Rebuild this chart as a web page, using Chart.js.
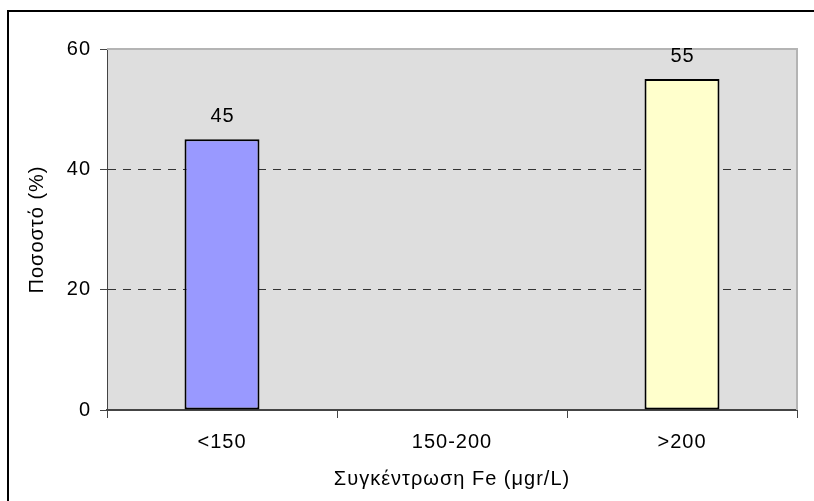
<!DOCTYPE html>
<html><head><meta charset="utf-8">
<script src="https://cdn.jsdelivr.net/npm/chart.js@4/dist/chart.umd.min.js"></script>
<style>
html,body{margin:0;padding:0;background:#fff;}
#wrap{position:relative;width:814px;height:501px;overflow:hidden;}
canvas{display:block;}
</style></head><body>
<div id="wrap"><canvas id="c" width="814" height="501"></canvas></div>
<script>
const categories = ['<150', '150-200', '>200'];
const values = [45, null, 55];
const barColors = ['#9999FF', '#FFFFCC', '#FFFFCC'];
const yTicks = [0, 20, 40, 60];
const xTitle = 'Συγκέντρωση Fe (μgr/L)';
const yTitle = 'Ποσοστό (%)';

const FONT = "'Liberation Sans', Arial, sans-serif";
const FS = 20;

const bgPlugin = {
  id: 'bgPlugin',
  beforeUpdate(chart) {
    try { chart.ctx.letterSpacing = '1px'; } catch (e) {}
  },
  beforeDraw(chart) {
    const {ctx, chartArea: a} = chart;
    try { ctx.letterSpacing = '1px'; } catch (e) {}
    ctx.save();
    ctx.fillStyle = '#fff';
    ctx.fillRect(0, 0, chart.width, chart.height);
    ctx.fillStyle = '#DEDEDE';
    ctx.fillRect(a.left, a.top, a.right - a.left, a.bottom - a.top);
    ctx.restore();
  },
  afterDatasetsDraw(chart) {
    const {ctx, chartArea: a} = chart;
    ctx.save();
    // plot border top/right
    ctx.strokeStyle = '#B4B4B4';
    ctx.lineWidth = 2;
    ctx.beginPath();
    ctx.moveTo(a.left, a.top);
    ctx.lineTo(a.right, a.top);
    ctx.lineTo(a.right, a.bottom);
    ctx.stroke();
    // data labels
    const meta = chart.getDatasetMeta(0);
    ctx.fillStyle = '#000';
    ctx.font = FS + 'px ' + FONT;
    ctx.textAlign = 'center';
    ctx.textBaseline = 'alphabetic';
    meta.data.forEach((bar, i) => {
      const v = chart.data.datasets[0].data[i];
      if (v === null || v === undefined) return;
      ctx.fillText(String(v), bar.x + 0.5, bar.y - 17);
    });
    // outer frame
    ctx.strokeStyle = '#000';
    ctx.lineWidth = 2;
    ctx.strokeRect(8, 11, 830, 530);
    ctx.restore();
  }
};

new Chart(document.getElementById('c'), {
  type: 'bar',
  data: {
    labels: categories,
    datasets: [{
      data: values,
      backgroundColor: barColors,
      borderColor: '#000',
      borderWidth: 2,
      borderSkipped: false,
      barPercentage: 0.326,
      categoryPercentage: 1
    }]
  },
  options: {
    responsive: false,
    animation: false,
    devicePixelRatio: 1,
    layout: {padding: {left: 25, right: 17, top: 49, bottom: 0}},
    plugins: {legend: {display: false}, tooltip: {enabled: false}},
    scales: {
      x: {
        afterFit(s) { s.height = 91; },
        grid: {
          offset: true,
          drawOnChartArea: false,
          drawTicks: true,
          tickLength: 8,
          color: '#444',
          tickColor: '#444',
          tickWidth: 1
        },
        border: {display: true, color: '#444', width: 2},
        ticks: {
          color: '#000',
          font: {family: FONT, size: FS},
          padding: 12,
          maxRotation: 0
        },
        title: {
          display: true,
          text: xTitle,
          color: '#000',
          font: {family: FONT, size: FS},
          padding: {top: 0, bottom: 10}
        }
      },
      y: {
        min: 0, max: 60,
        afterFit(s) { s.width = 82; },
        afterBuildTicks(s) { s.ticks = yTicks.map(v => ({value: v})); },
        grid: {
          drawTicks: true,
          tickLength: 7,
          tickColor: '#444',
          color: (c) => (c.tick && (c.tick.value === 20 || c.tick.value === 40)) ? '#333' : 'rgba(0,0,0,0)',
          lineWidth: 1
        },
        border: {display: true, color: '#444', width: 1, dash: [8, 7]},
        ticks: {
          color: '#000',
          font: {family: FONT, size: FS},
          padding: 9
        },
        title: {
          display: true,
          text: yTitle,
          color: '#000',
          font: {family: FONT, size: FS},
          padding: {top: 0, bottom: 0}
        }
      }
    }
  },
  plugins: [bgPlugin]
});
</script>
</body></html>
